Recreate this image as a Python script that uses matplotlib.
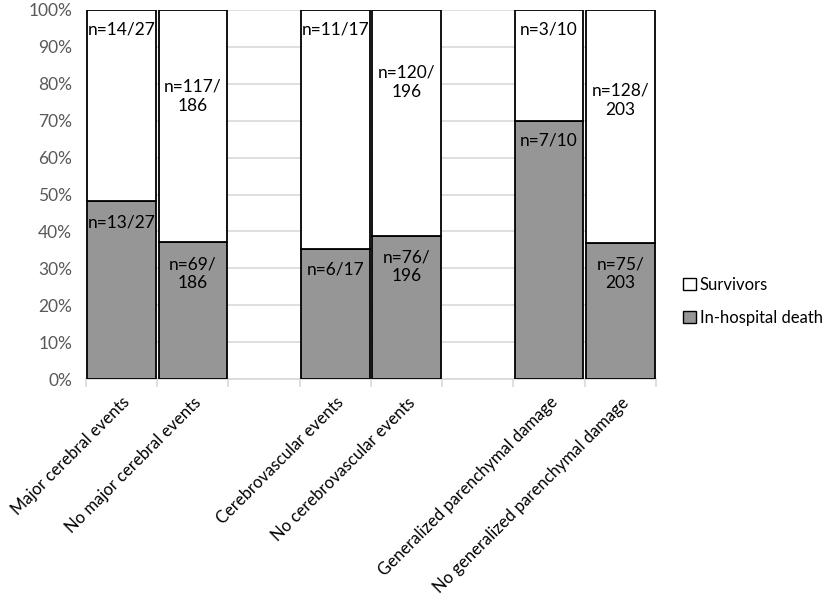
import matplotlib
matplotlib.use('Agg')
import matplotlib.pyplot as plt
from matplotlib.patches import Patch
import numpy as np

plt.rcParams['font.family'] = ['Lato', 'DejaVu Sans']

# Data
categories = ['Major cerebral events', 'No major cerebral events',
              'Cerebrovascular events', 'No cerebrovascular events',
              'Generalized parenchymal damage', 'No generalized parenchymal damage']
deaths = [13, 69, 6, 76, 7, 75]
totals = [27, 186, 17, 196, 10, 203]
# label vertical positions (percent)
death_label_y = [42.5, 28.5, 29.8, 30.4, 64.5, 28.5]
surv_label_y = [94.6, 76.7, 94.6, 80.5, 94.6, 75.6]
# whether a label is split over two lines
split = [False, True, False, True, False, True]

positions = np.array([0, 1, 3, 4, 6, 7])
deaths = np.array(deaths)
totals = np.array(totals)
survivors = totals - deaths
death_pct = deaths / totals * 100
surv_pct = survivors / totals * 100

fig = plt.figure(figsize=(8.29, 6), dpi=100)
ax = fig.add_axes([86 / 829, 1 - 379 / 600, 570 / 829, 369 / 600])

gray = '#969696'
ax.bar(positions, death_pct, width=0.96, color=gray, edgecolor='black', linewidth=1.3, zorder=3)
ax.bar(positions, surv_pct, bottom=death_pct, width=0.96, color='white', edgecolor='black',
       linewidth=1.3, zorder=3)

# Data labels
for i, p in enumerate(positions):
    if split[i]:
        dtxt = f'n={deaths[i]}/\n{totals[i]}'
        stxt = f'n={survivors[i]}/\n{totals[i]}'
    else:
        dtxt = f'n={deaths[i]}/{totals[i]}'
        stxt = f'n={survivors[i]}/{totals[i]}'
    ax.text(p, death_label_y[i], dtxt, ha='center', va='center', fontsize=12.5,
            color='black', linespacing=1.25, zorder=4)
    ax.text(p, surv_label_y[i], stxt, ha='center', va='center', fontsize=12.5,
            color='black', linespacing=1.25, zorder=4)

ax.set_xlim(-0.5, 7.5)
ax.set_ylim(0, 100)
ax.set_yticks(np.arange(0, 101, 10))
ax.set_yticklabels([f'{v}%' for v in range(0, 101, 10)], fontsize=12.5, color='#595959')
ax.yaxis.grid(True, color='#d9d9d9', linewidth=1.2, zorder=0)
ax.set_axisbelow(True)

ax.set_xticks(positions)
ax.set_xticklabels(categories, rotation=45, ha='right', rotation_mode='anchor',
                   fontsize=12, color='black')
ax.set_xticks(np.arange(-0.5, 7.6, 1), minor=True)
ax.tick_params(axis='x', which='major', length=0, pad=11)
ax.tick_params(axis='x', which='minor', length=6, color='#d9d9d9', width=1.2)
ax.tick_params(axis='y', length=0, pad=10)

for s in ['top', 'right', 'left']:
    ax.spines[s].set_visible(False)
ax.spines['bottom'].set_color('#d9d9d9')
ax.spines['bottom'].set_linewidth(1.2)

handles = [Patch(facecolor='white', edgecolor='black', label='Survivors'),
           Patch(facecolor=gray, edgecolor='black', label='In-hospital death')]
fig.legend(handles=handles, loc='center left', bbox_to_anchor=(0.824, 0.4975), frameon=False,
           fontsize=12, handlelength=0.75, handleheight=0.75, handletextpad=0.25,
           labelspacing=1.0, borderaxespad=0, borderpad=0)

fig.savefig('out.png', dpi=100)
